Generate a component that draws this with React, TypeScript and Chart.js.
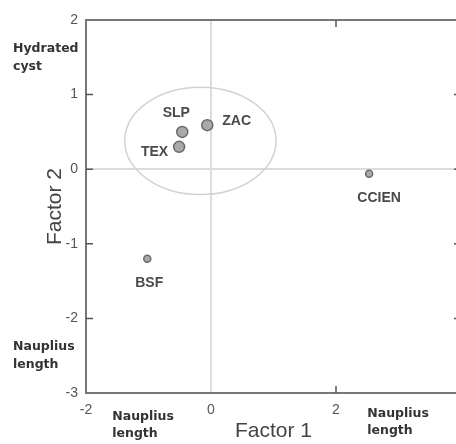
import React, { useEffect, useRef } from 'react';
import { Chart, registerables } from 'chart.js';

Chart.register(...registerables);

const siteNames = ['SLP', 'TEX', 'ZAC', 'CCIEN', 'BSF'];
const factor1 = [-0.46, -0.51, -0.06, 2.53, -1.02];
const factor2 = [0.5, 0.3, 0.59, -0.06, -1.2];
const xTickValues = [-2, 0, 2, 4];
const yTickValues = [2, 1, 0, -1, -2, -3];
const ellipseCenter = [-0.17, 0.38];
const ellipseRadii = [1.21, 0.72];
const xAxisTitle = 'Factor 1';
const yAxisTitle = 'Factor 2';
const sideNotes = [
  { lines: ['Hydrated', 'cyst'], y: 1.5 },
  { lines: ['Nauplius', 'length'], y: -2.5 },
];
const bottomNotes = [
  { lines: ['Nauplius', 'length'], x: -1.58 },
  { lines: ['Nauplius', 'length'], x: 2.5 },
];

// styles
const pointRadii = [5.5, 5.5, 5.5, 3.5, 3.5];
const labelOffsets: [number, number, CanvasTextAlign][] = [
  [-6, -19, 'center'],
  [-11, 5, 'right'],
  [15, -4, 'left'],
  [10, 24, 'center'],
  [2, 24, 'center'],
];

const decorPlugin = {
  id: 'decor',
  beforeDatasetsDraw(chart: any) {
    const { ctx, scales } = chart;
    const xs = scales.x;
    const ys = scales.y;
    const cx = xs.getPixelForValue(ellipseCenter[0]);
    const cy = ys.getPixelForValue(ellipseCenter[1]);
    const rx = Math.abs(xs.getPixelForValue(ellipseCenter[0] + ellipseRadii[0]) - cx);
    const ry = Math.abs(ys.getPixelForValue(ellipseCenter[1] + ellipseRadii[1]) - cy);
    ctx.save();
    ctx.strokeStyle = '#d2d2d2';
    ctx.lineWidth = 1.5;
    ctx.beginPath();
    ctx.ellipse(cx, cy, rx, ry, 0, 0, Math.PI * 2);
    ctx.stroke();
    ctx.restore();
  },
  afterDatasetsDraw(chart: any) {
    const { ctx, scales } = chart;
    ctx.save();
    ctx.font = 'bold 14px "Liberation Sans", Arial, sans-serif';
    ctx.fillStyle = '#4a4a4a';
    ctx.textBaseline = 'middle';
    siteNames.forEach((name, i) => {
      const px = scales.x.getPixelForValue(factor1[i]);
      const py = scales.y.getPixelForValue(factor2[i]);
      const [dx, dy, align] = labelOffsets[i];
      ctx.textAlign = align;
      ctx.fillText(name, px + dx, py + dy);
    });
    ctx.restore();
  },
  afterDraw(chart: any) {
    const { ctx, scales, chartArea } = chart;
    const { left, right, top, bottom } = chartArea;
    ctx.save();
    // top & right border
    ctx.strokeStyle = '#777';
    ctx.lineWidth = 2;
    ctx.beginPath();
    ctx.moveTo(left, top);
    ctx.lineTo(right, top);
    ctx.lineTo(right, bottom);
    ctx.stroke();
    // inward ticks
    ctx.strokeStyle = '#555';
    ctx.lineWidth = 1.5;
    const tl = 7;
    scales.x.ticks.forEach((t: any) => {
      if (t.value === 0 || t.value === scales.x.min || t.value === scales.x.max) return;
      const p = scales.x.getPixelForValue(t.value);
      ctx.beginPath();
      ctx.moveTo(p, top);
      ctx.lineTo(p, top + tl);
      ctx.moveTo(p, bottom);
      ctx.lineTo(p, bottom - tl);
      ctx.stroke();
    });
    scales.y.ticks.forEach((t: any) => {
      if (t.value === scales.y.min || t.value === scales.y.max) return;
      const p = scales.y.getPixelForValue(t.value);
      ctx.beginPath();
      ctx.moveTo(left, p);
      ctx.lineTo(left + tl, p);
      ctx.moveTo(right, p);
      ctx.lineTo(right - tl, p);
      ctx.stroke();
    });
    // side notes
    ctx.font = 'bold 12.5px "DejaVu Sans", Verdana, sans-serif';
    ctx.fillStyle = '#333';
    ctx.textAlign = 'left';
    ctx.textBaseline = 'middle';
    sideNotes.forEach((n) => {
      const py = scales.y.getPixelForValue(n.y);
      n.lines.forEach((l, i) => ctx.fillText(l, 13, py - 9 + i * 18));
    });
    bottomNotes.forEach((n, k) => {
      const px = scales.x.getPixelForValue(n.x);
      const base = bottom + (k === 0 ? 24 : 21);
      n.lines.forEach((l, i) => ctx.fillText(l, px, base + i * 17));
    });
    ctx.restore();
  },
};

export default function App() {
  const ref = useRef<HTMLCanvasElement>(null);
  useEffect(() => {
    if (!ref.current) return;
    const chart = new Chart(ref.current, {
      type: 'scatter',
      data: {
        datasets: [
          {
            data: factor1.map((x, i) => ({ x, y: factor2[i] })),
            backgroundColor: '#aaaaaa',
            borderColor: '#6a6a6a',
            borderWidth: 1.5,
            pointRadius: pointRadii,
          },
        ],
      },
      options: {
        animation: false,
        responsive: false,
        devicePixelRatio: 1,
        layout: { padding: { left: 0, top: 20, right: 9, bottom: 0 } },
        plugins: { legend: { display: false }, tooltip: { enabled: false } },
        scales: {
          x: {
            type: 'linear',
            min: -2,
            max: 4,
            afterBuildTicks: (s: any) => {
              s.ticks = xTickValues.map((v) => ({ value: v }));
            },
            afterFit: (s: any) => {
              s.height = 51;
            },
            ticks: {
              autoSkip: false,
              padding: 9,
              color: '#555',
              font: { family: '"Liberation Sans", Arial, sans-serif', size: 14 },
              callback: (v: any) => (v === 4 ? '' : String(v)),
            },
            grid: {
              drawTicks: false,
              color: (c: any) => (c.tick && c.tick.value === 0 ? '#dcdcdc' : 'rgba(0,0,0,0)'),
              lineWidth: 2,
            },
            border: { display: true, color: '#777', width: 2 },
            title: {
              display: true,
              text: xAxisTitle,
              color: '#444',
              font: { family: '"Liberation Sans", Arial, sans-serif', size: 21 },
              padding: { top: 0, bottom: 0 },
            },
          },
          y: {
            type: 'linear',
            min: -3,
            max: 2,
            afterBuildTicks: (s: any) => {
              s.ticks = yTickValues.map((v) => ({ value: v }));
            },
            afterFit: (s: any) => {
              s.width = 86;
            },
            ticks: {
              autoSkip: false,
              padding: 8,
              color: '#555',
              font: { family: '"Liberation Sans", Arial, sans-serif', size: 14 },
              callback: (v: any) => String(v),
            },
            grid: {
              drawTicks: false,
              color: (c: any) => (c.tick && c.tick.value === 0 ? '#dcdcdc' : 'rgba(0,0,0,0)'),
              lineWidth: 2,
            },
            border: { display: true, color: '#777', width: 2 },
            title: {
              display: true,
              text: yAxisTitle,
              color: '#444',
              font: { family: '"Liberation Sans", Arial, sans-serif', size: 21 },
              padding: { top: 43, bottom: 0 },
            },
          },
        },
      },
      plugins: [decorPlugin],
    } as any);
    return () => chart.destroy();
  }, []);
  return (
    <div
      style={{
        position: 'fixed',
        left: 0,
        top: 0,
        width: 456,
        height: 444,
        overflow: 'hidden',
        background: '#fff',
      }}
    >
      <canvas ref={ref} width={470} height={444} style={{ width: 470, height: 444, display: 'block' }} />
    </div>
  );
}
